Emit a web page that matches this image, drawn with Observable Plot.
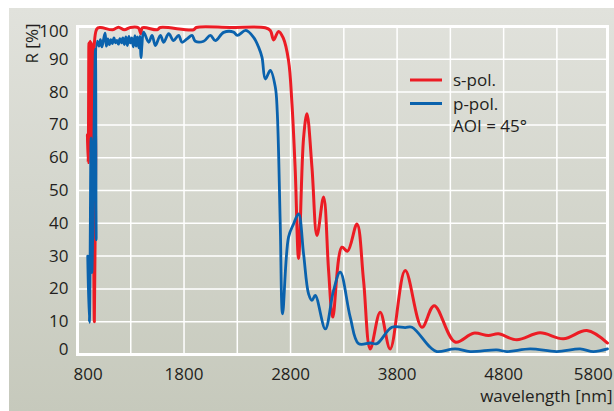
<!DOCTYPE html>
<html>
<head>
<meta charset="utf-8">
<script src="https://cdn.jsdelivr.net/npm/d3@7"></script>
<script src="https://cdn.jsdelivr.net/npm/@observablehq/plot@0.6"></script>
<style>
  html, body { margin: 0; padding: 0; background: #ffffff; }
  #wrap { position: relative; width: 614px; height: 411px; background: #ffffff; overflow: hidden; }
  #bg { position: absolute; left: 9px; top: 8px; right: 0; bottom: 0; background: linear-gradient(#e1e2dc, #c6c9bc); }
  #chart { position: absolute; left: 0; top: 0; }
  #legend { position: absolute; left: 0; top: 0; pointer-events: none; }
</style>
</head>
<body>
<div id="wrap"><div id="bg"></div><div id="chart"></div><svg id="legend" width="614" height="411"></svg></div>
<script>
// s-pol. (red) reflectance
const sWavelength = [893,900,907,913,919,926,931,938,943,949,958,971,982,1015,1130,1184,1240,1296,1371,1395,1409,1547,1578,1890,1915,2234,2563,2610,2641,2687,2731,2781,2813,2844,2875,2922,2954,3001,3048,3110,3157,3196,3282,3335,3423,3485,3548,3641,3735,3876,4033,4148,4345,4517,4657,4751,4924,5142,5361,5581,5775];
const sReflect = [67,58.5,95,62,95.5,64,95,66,94,55,10,60,99.3,99.7,99.0,99.8,99.0,99.7,99.6,97.8,99.6,99.0,99.7,99.0,99.7,99.7,99.6,98.8,95.9,98.5,96.5,89.6,76.5,56,29.3,66,73.4,57,36.3,48,25.6,11.4,32.7,31.5,39.8,22.6,1.7,12.9,1.7,25.6,8.3,14.9,3.8,6.5,5.8,6.3,4.5,6.6,4.8,7.3,3.5];

// p-pol. (blue) reflectance
const pWavelength = [896,911,927,935,968,975,985,1001,1015,1029,1043,1059,1071,1085,1099,1113,1127,1142,1156,1170,1184,1198,1212,1226,1240,1254,1268,1282,1296,1310,1324,1339,1350,1362,1376,1385,1397,1404,1421,1468,1500,1531,1578,1609,1656,1702,1749,1781,1828,1875,1906,1984,2047,2094,2172,2265,2300,2380,2453,2500,2532,2563,2610,2657,2675,2703,2725,2781,2828,2875,2922,2969,3001,3032,3126,3203,3266,3360,3438,3548,3611,3751,3876,3939,4111,4173,4345,4486,4736,4830,5049,5299,5518,5643,5775];
const pReflect = [30,9.8,66,25,93,35,95.5,94,96,93.8,95.8,98,94,96.2,94.5,96,94.8,96.5,95,95.8,94.6,96.3,95,96.5,94.5,96.8,94.2,97,95,96.5,93.8,97.2,94,96.8,93.5,97,90.5,94,98.3,95.2,97.3,94.2,97.3,95.2,97.8,95.7,97.3,95.2,96.2,97.3,95.5,95.5,97.3,95.7,98.2,98.3,97.3,98.8,96.7,93.7,90.6,84,86.6,81.5,74,40,12.4,35.8,39.8,42.9,30.7,18.5,16.5,18,7.8,19.5,25.1,11.4,3.3,3.5,3.3,8.3,8.2,8.3,2.2,0.9,1.7,0.9,1.4,0.9,1.7,0.9,1.7,0.9,1.7];

const xTickLabels = [800, 1800, 2800, 3800, 4800, 5800];
const xGridLines = [1300, 1800, 2300, 2800, 3300, 3800, 4300, 4800, 5300];
const yTickLabels = [0, 10, 20, 30, 40, 50, 60, 70, 80, 90, 100];
const seriesNames = ["s-pol.", "p-pol."];
const seriesColors = ["#ec1c24", "#0a62ad"];
const legendNote = "AOI = 45°";
const xAxisTitle = "wavelength [nm]";
const yAxisTitle = "R [%]";

const sData = sWavelength.map((w, i) => ({wl: w, r: sReflect[i]}));
const pData = pWavelength.map((w, i) => ({wl: w, r: pReflect[i]}));

const textColor = "#231f20";
const fontFam = "'Open Sans', sans-serif";
const fontPx = 17;
const axisCommon = {tickSize: 0, label: null, fill: textColor, tickFormat: d => String(d)};
const yFirst = yTickLabels[0], yLast = yTickLabels[yTickLabels.length - 1];
const xFirst = xTickLabels[0], xLast = xTickLabels[xTickLabels.length - 1];

const chart = Plot.plot({
  width: 614,
  height: 411,
  marginLeft: 77,
  marginRight: 7,
  marginTop: 26,
  marginBottom: 57,
  x: {domain: [800, 5775]},
  y: {domain: [0, 100]},
  style: {background: "transparent", fontFamily: fontFam, fontSize: fontPx + "px", color: textColor, overflow: "visible"},
  marks: [
    Plot.gridX(xGridLines, {stroke: "white", strokeOpacity: 1, strokeWidth: 1.5}),
    Plot.gridY(yTickLabels.slice(1, -1), {stroke: "white", strokeOpacity: 1, strokeWidth: 1.5}),
    Plot.frame({stroke: "white", strokeWidth: 3}),
    Plot.line(sData, {x: "wl", y: "r", stroke: seriesColors[0], strokeWidth: 3, curve: "catmull-rom"}),
    Plot.line(pData, {x: "wl", y: "r", stroke: seriesColors[1], strokeWidth: 2.8, curve: "catmull-rom"}),
    Plot.axisX(xTickLabels.slice(1, -1), {...axisCommon, tickPadding: 13, fontSize: fontPx}),
    Plot.axisX([xFirst], {...axisCommon, tickPadding: 13, textAnchor: "start", dx: -4, fontSize: fontPx}),
    Plot.axisX([xLast], {...axisCommon, tickPadding: 13, textAnchor: "end", dx: 2.5, fontSize: fontPx}),
    Plot.axisY(yTickLabels.slice(1, -1), {...axisCommon, tickPadding: 9, fontSize: fontPx}),
    Plot.axisY([yLast], {...axisCommon, tickPadding: 9, dy: 5.5, fontSize: fontPx}),
    Plot.axisY([yFirst], {...axisCommon, tickPadding: 9, dy: -4.5, fontSize: fontPx}),
    Plot.text([yAxisTitle], {frameAnchor: "top-left", rotate: -90, dx: -52, dy: 17, textAnchor: "middle", fill: textColor, fontSize: fontPx}),
    Plot.text([xAxisTitle], {frameAnchor: "bottom-right", dx: 5, dy: 47, textAnchor: "end", fill: textColor, fontSize: fontPx})
  ]
});
document.getElementById("chart").appendChild(chart);

// legend
const lg = d3.select("#legend");
seriesNames.forEach((name, i) => {
  const base = 86 + i * 23.5;
  lg.append("line").attr("x1", 410).attr("x2", 442).attr("y1", base - 6).attr("y2", base - 6)
    .attr("stroke", seriesColors[i]).attr("stroke-width", 3);
  lg.append("text").attr("x", 453).attr("y", base).text(name)
    .attr("font-family", fontFam).attr("font-size", fontPx).attr("fill", textColor);
});
lg.append("text").attr("x", 453).attr("y", 131.5).text(legendNote)
  .attr("font-family", fontFam).attr("font-size", fontPx).attr("fill", textColor);
</script>
</body>
</html>
